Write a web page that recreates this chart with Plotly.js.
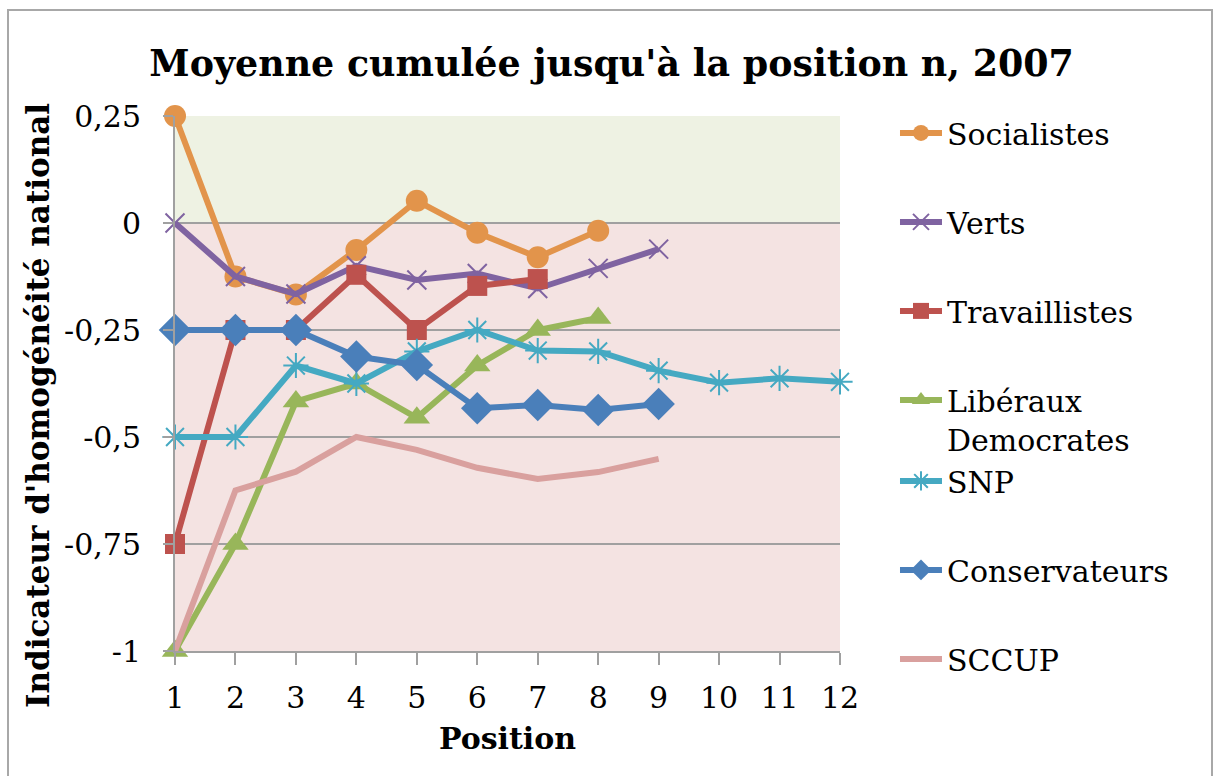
<!DOCTYPE html>
<html>
<head>
<meta charset="utf-8">
<script src="https://cdn.plot.ly/plotly-3.0.1.min.js"></script>
<style>
  html, body { margin: 0; padding: 0; background: #fff; overflow: hidden; }
  #chart { width: 1216px; height: 776px; }
  #frame { position: absolute; left: 7px; top: 9px; width: 1202px; height: 800px;
           border: 2px solid #a8a8a8; pointer-events: none; }
</style>
</head>
<body>
<div id="chart"></div>
<div id="frame"></div>
<script>
// ---- data ----
var positions = [1, 2, 3, 4, 5, 6, 7, 8, 9, 10, 11, 12];
var socialistes   = [0.25, -0.125, -0.167, -0.063, 0.052, -0.023, -0.080, -0.018];
var verts         = [0, -0.125, -0.166, -0.100, -0.133, -0.118, -0.153, -0.106, -0.061];
var travaillistes = [-0.75, -0.25, -0.25, -0.121, -0.25, -0.147, -0.131];
var liberaux      = [-1, -0.75, -0.417, -0.375, -0.455, -0.333, -0.25, -0.222];
var snp           = [-0.5, -0.5, -0.333, -0.375, -0.300, -0.25, -0.298, -0.300, -0.345, -0.373, -0.363, -0.371];
var conservateurs = [-0.25, -0.25, -0.25, -0.312, -0.332, -0.433, -0.425, -0.437, -0.423];
var sccup         = [-1, -0.625, -0.581, -0.5, -0.530, -0.572, -0.598, -0.582, -0.551];

var yTickVals = [0.25, 0, -0.25, -0.5, -0.75, -1];
var yTickText = ["0,25", "0", "-0,25", "-0,5", "-0,75", "-1"];
var xTickVals = positions;

var FONT = "DejaVu Serif";
var LW = 6;

function mk(name, ys, color, marker, group) {
  var t = {
    type: "scatter", mode: marker ? "lines+markers" : "lines",
    name: name, x: positions.slice(0, ys.length), y: ys,
    line: { color: color, width: LW },
    legendgroup: group,
    cliponaxis: false
  };
  if (marker) t.marker = marker;
  return t;
}

var data = [
  mk("Socialistes", socialistes, "#E2944B", { symbol: "circle", size: 22, color: "#E2944B" }, "g1"),
  mk("Verts", verts, "#7F63A1", { symbol: "x-thin-open", size: 19, color: "#7F63A1", line: { width: 2, color: "#7F63A1" } }, "g2"),
  mk("Travaillistes", travaillistes, "#BD524E", { symbol: "square", size: 20, color: "#BD524E" }, "g3"),
  mk("Libéraux<br>Democrates", liberaux, "#98B65A", { symbol: "triangle-up", size: 23, color: "#98B65A" }, "g4"),
  mk("SNP", snp, "#45A9C2", { symbol: "asterisk-open", size: 21, color: "#45A9C2", line: { width: 2, color: "#45A9C2" } }, "g4"),
  mk("Conservateurs", conservateurs, "#4A7FBA", { symbol: "diamond", size: 25, color: "#4A7FBA" }, "g6"),
  mk("SCCUP", sccup, "#D9A09E", null, "g7")
];

var layout = {
  width: 1216, height: 776,
  margin: { l: 175, r: 376, t: 116, b: 125, pad: 0 },
  paper_bgcolor: "#ffffff",
  plot_bgcolor: "rgba(0,0,0,0)",
  font: { family: FONT, size: 30, color: "#000" },
  title: {
    text: "<b>Moyenne cumulée jusqu'à la position n, 2007</b>",
    font: { family: FONT, size: 36.4, color: "#000" },
    x: 0.503, xanchor: "center", y: 0.918, yanchor: "middle"
  },
  showlegend: true,
  legend: {
    x: 1.0827, xanchor: "left", y: 1.017, yanchor: "top",
    bgcolor: "rgba(0,0,0,0)",
    font: { family: FONT, size: 30, color: "#000" },
    tracegroupgap: 47, valign: "top", maxheight: 740, itemwidth: 42
  },
  xaxis: {
    range: [1, 12], tickmode: "array", tickvals: xTickVals,
    showgrid: false, zeroline: false,
    showline: true, linecolor: "#a0a0a0", linewidth: 2,
    ticks: "outside", ticklen: 12, tickwidth: 2, tickcolor: "#a0a0a0",
    tickfont: { family: FONT, size: 30 }, ticklabelstandoff: 7,
    title: { text: "<b>Position</b>", font: { family: FONT, size: 30 }, standoff: 14 }
  },
  yaxis: {
    range: [-1, 0.25], tickmode: "array", tickvals: yTickVals, ticktext: yTickText,
    showgrid: true, gridcolor: "#a0a0a0", gridwidth: 2, zeroline: false,
    showline: true, linecolor: "#a0a0a0", linewidth: 2,
    ticks: "outside", ticklen: 10, tickwidth: 2, tickcolor: "#a0a0a0",
    tickfont: { family: FONT, size: 30 }, ticklabelstandoff: 16
  },
  shapes: [
    { type: "rect", xref: "paper", yref: "y", x0: 0, x1: 1, y0: 0, y1: 0.25,
      fillcolor: "#EEF2E3", line: { width: 0 }, layer: "below" },
    { type: "rect", xref: "paper", yref: "y", x0: 0, x1: 1, y0: -1, y1: 0,
      fillcolor: "#F4E3E2", line: { width: 0 }, layer: "below" }
  ],
  annotations: [
    { text: "<b>Indicateur d'homogénéité national</b>", textangle: -90,
      xref: "paper", yref: "paper", x: (38 - 175) / 665, y: (651 - 406) / 535,
      xanchor: "center", yanchor: "middle", showarrow: false,
      font: { family: FONT, size: 31, color: "#000" } }
  ]
};

Plotly.newPlot("chart", data, layout, { staticPlot: true, displayModeBar: false });
</script>
</body>
</html>
